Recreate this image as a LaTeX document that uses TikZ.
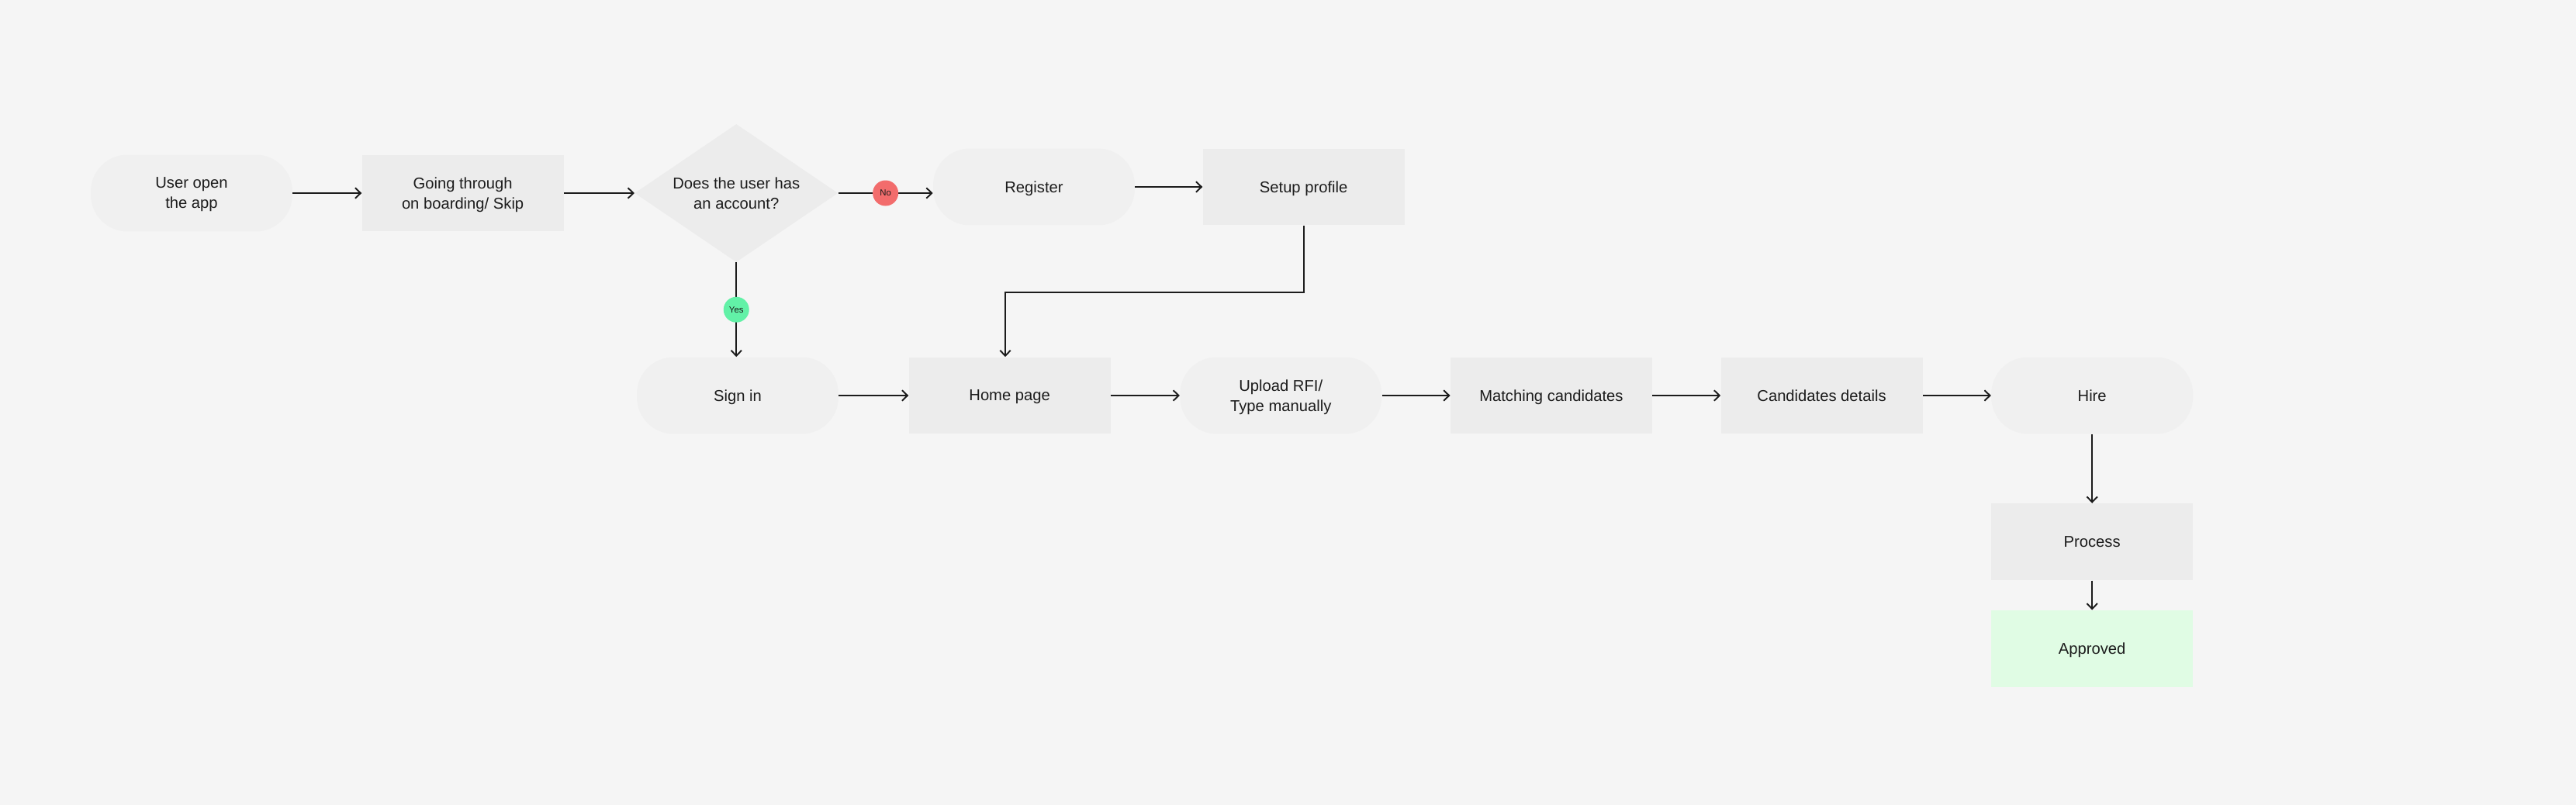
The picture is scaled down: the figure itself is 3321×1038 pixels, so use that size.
\documentclass[tikz,border=0pt]{standalone}
\usepackage{fontspec}
\setmainfont{Liberation Sans}
\usepackage{tikz}
\usetikzlibrary{
  positioning,
  shapes.geometric,
  arrows.meta
}
\definecolor{canvas}{HTML}{F5F5F5}
\definecolor{pillgray}{HTML}{F0F0F0}
\definecolor{boxgray}{HTML}{ECECEC}
\definecolor{approvegreen}{HTML}{E0FCE4}
\definecolor{nored}{HTML}{F26C6C}
\definecolor{yesgreen}{HTML}{62F1A7}
\definecolor{ink}{HTML}{1C1C1C}
\tikzset{pill/.style={
  rectangle, rounded corners=0.95cm,
  fill=pillgray,
  minimum width=5.2cm, minimum height=1.98cm,
  align=center, text=ink, text depth=0pt,
  font=\fontsize{11.5}{14.8}\selectfont
}}
\tikzset{screen/.style={
  rectangle,
  fill=boxgray,
  minimum width=5.2cm, minimum height=1.98cm,
  align=center, text=ink, text depth=0pt,
  font=\fontsize{11.5}{14.8}\selectfont
}}
\tikzset{choice/.style={
  diamond, shape aspect=1.47,
  fill=boxgray, inner sep=0pt,
  minimum width=5.24cm, minimum height=3.56cm,
  align=center, text=ink,
  font=\fontsize{11.5}{14.8}\selectfont
}}
\tikzset{badge/.style={
  circle, inner sep=0pt,
  minimum size=0.66cm,
  text=ink,
  font=\fontsize{6.5}{7}\selectfont
}}
\tikzset{flow/.style={
  draw=ink, line width=1.1pt,
  -{Straight Barb[length=0.14cm,width=0.27cm]}
}}

\begin{document}
\begin{tikzpicture}[x=0.02cm, y=-0.02cm]
  \fill[canvas] (0,0) rectangle (3321,1038);
  \useasboundingbox (0,0) rectangle (3321,1038);

  % top row
  \node[pill] (open) at (247,249) {User open\\the app};
  \node[screen, right=1.78cm of open] (onboard) {Going through\\on boarding/ Skip};
  \node[choice, right=1.82cm of onboard] (account) {Does the user has\\an account?};
  \node[pill] (register) at (1333,241) {Register};
  \node[screen, right=1.74cm of register] (setup) {Setup profile};

  % second row
  \node[pill] (signin) at (951,510) {Sign in};
  \node[screen, right=1.8cm of signin] (home) {Home page};
  \node[pill, right=1.78cm of home] (upload) {Upload RFI/\\Type manually};
  \node[screen, right=1.76cm of upload] (matching) {Matching candidates};
  \node[screen, right=1.76cm of matching] (details) {Candidates details};
  \node[pill, right=1.76cm of details] (hire) {Hire};
  \node[screen, below=1.78cm of hire] (process) {Process};
  \node[screen, fill=approvegreen, below=0.76cm of process] (approved) {Approved};

  \draw[flow] (open) -- (onboard);
  \draw[flow] (onboard) -- (account);
  \draw[flow] (account.east) -- (account.east -| register.west)
    node[badge, fill=nored, midway] (no) {No};
  \draw[flow] (register) -- (setup);
  \draw[flow] (account.south) -- (account.south |- signin.north)
    node[badge, fill=yesgreen, midway] (yes) {Yes};
  \coordinate (knee) at (1296,377);
  \draw[flow] (setup.south) |- (knee) -- (knee |- home.north);
  \draw[flow] (signin) -- (home);
  \draw[flow] (home) -- (upload);
  \draw[flow] (upload) -- (matching);
  \draw[flow] (matching) -- (details);
  \draw[flow] (details) -- (hire);
  \draw[flow] (hire) -- (process);
  \draw[flow] (process) -- (approved);
\end{tikzpicture}
\end{document}
